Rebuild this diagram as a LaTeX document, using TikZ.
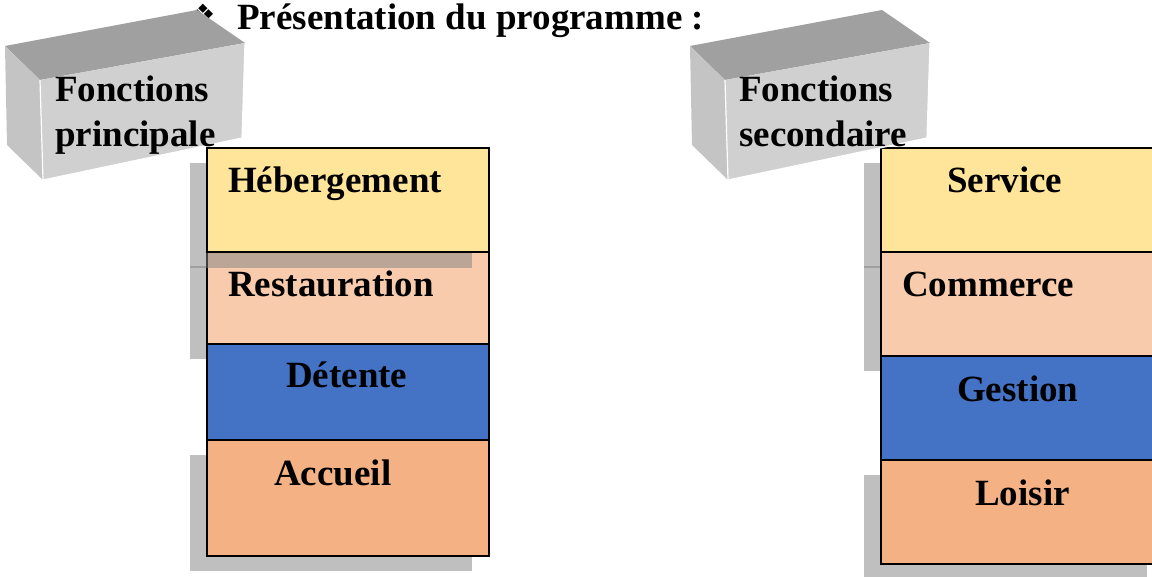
\documentclass[tikz,border=0pt]{standalone}
\usepackage{fontspec}
\setmainfont{Liberation Serif}
\newfontfamily\symfont{DejaVu Sans}
\usepackage{xcolor}
\usepackage{tikz}
\usetikzlibrary{positioning}

\definecolor{hebcol}{HTML}{FFE599}
\definecolor{rescol}{HTML}{F8CBAD}
\definecolor{detcol}{HTML}{4472C4}
\definecolor{acccol}{HTML}{F4B183}
\definecolor{topgray}{HTML}{A0A0A0}
\definecolor{sidegray}{HTML}{C4C4C4}
\definecolor{frontgray}{HTML}{D0D0D0}

\begin{document}
\begin{tikzpicture}[x=1pt, y=-1pt,
    layer/.style={draw, line width=1.8pt, anchor=north west, minimum width=282pt, inner sep=0pt},
    lbl/.style={anchor=base west, inner sep=0pt, font=\fontsize{37}{45}\selectfont\bfseries},
    shadowbox/.style={fill=black!50, opacity=0.5}]
\clip (0,0) rectangle (1152,577);

% Title
\node[inner sep=0pt, font=\symfont\fontsize{28}{28}\selectfont] (bullet) at (203,14) {❖};
\node[lbl] (title) at (237,30) {Présentation du programme :};

% Left stack
\fill[shadowbox] (190,455) rectangle (472,571);
\node[layer, fill=acccol, minimum height=116pt] (acc) at (206,439) {};
\fill[shadowbox] (190,266) rectangle (472,359);
\node[layer, fill=detcol, minimum height=96pt] (det) at (206,343) {};
\node[layer, fill=rescol, minimum height=92pt] (res) at (206,251) {};
\fill[shadowbox] (190,163) rectangle (472,268);
\node[layer, fill=hebcol, minimum height=104pt] (heb) at (206,147) {};

\node[lbl] (hebtxt) at (228,193) {Hébergement};
\node[lbl] (restxt) at (228,297) {Restauration};
\node[lbl] (dettxt) at (286,388) {Détente};
\node[lbl] (acctxt) at (274,485) {Accueil};

% Right stack
\fill[shadowbox] (864,475) rectangle (1147,579);
\node[layer, fill=acccol, minimum width=283pt, minimum height=104pt] (lois) at (880,459) {};
\fill[shadowbox] (864,163) rectangle (1147,268);
\fill[shadowbox] (864,266) rectangle (1147,371);
\node[layer, fill=detcol, minimum width=283pt, minimum height=104pt] (gest) at (880,355) {};
\node[layer, fill=rescol, minimum width=283pt, minimum height=104pt] (comm) at (880,251) {};
\node[layer, fill=hebcol, minimum width=283pt, minimum height=104pt] (serv) at (880,147) {};

\node[lbl] (servtxt) at (947,193) {Service};
\node[lbl] (commtxt) at (902,297) {Commerce};
\node[lbl] (gesttxt) at (957,402) {Gestion};
\node[lbl] (loistxt) at (975,505) {Loisir};

% 3D boxes
\foreach \dx in {0,685} {
  \begin{scope}[xshift=\dx]
    \fill[topgray] (5,46) -- (197,10) -- (245,43) -- (40,80) -- cycle;
    \fill[sidegray] (5,46) -- (40,80) -- (43,180) -- (7,145) -- cycle;
    \fill[frontgray] (40,80) -- (245,43) -- (242,138) -- (43,180) -- cycle;
    \draw[white, line width=1.2pt] (40,80) -- (43,180) -- (242,138) -- (245,43);
  \end{scope}
}
\node[lbl, align=left] (princ) at (55,147) {Fonctions\\principale};
\node[lbl, align=left] (second) at (739,147) {Fonctions\\secondaire};

\end{tikzpicture}
\end{document}
